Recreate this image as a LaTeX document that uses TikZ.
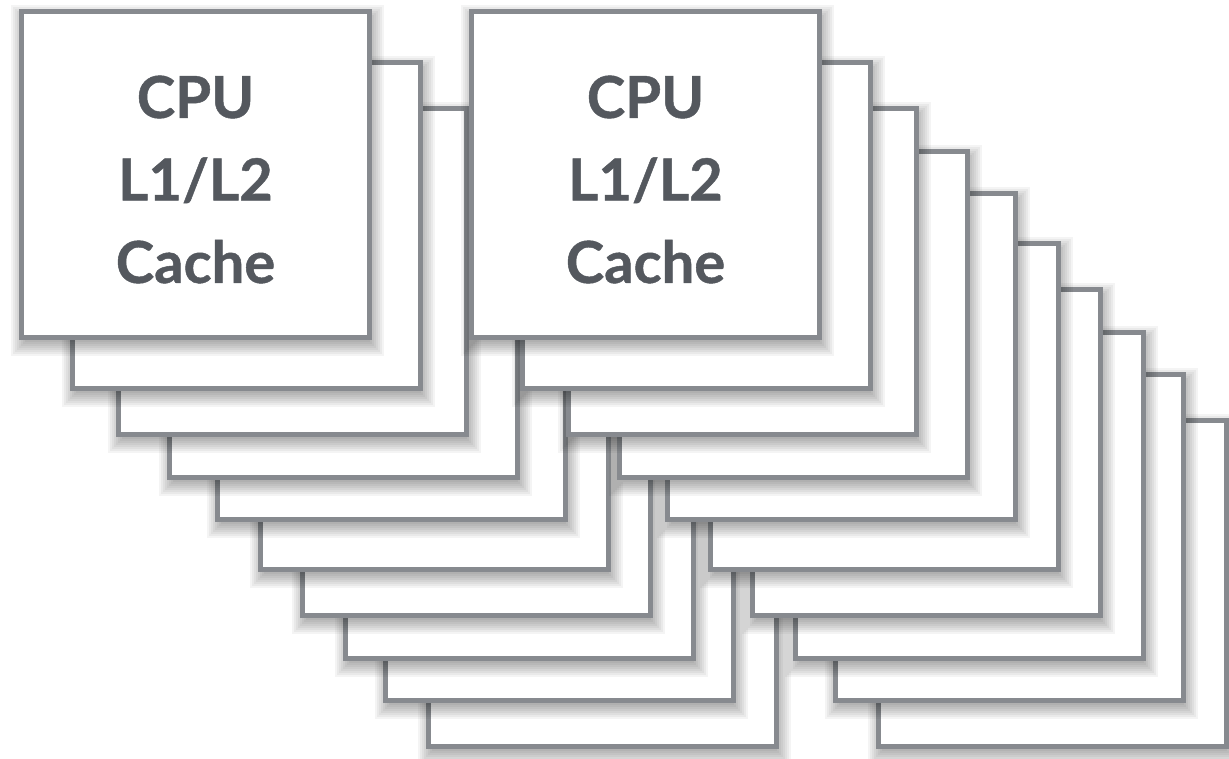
\documentclass[tikz,border=0pt]{standalone}
\usepackage{fontspec}
\setmainfont{Lato}[BoldFeatures={FakeBold=0.8}]
\definecolor{edgegray}{RGB}{135,138,143}
\definecolor{inkgray}{RGB}{84,88,94}
\tikzset{
  card/.style={draw=edgegray, line width=5pt, fill=white,
    minimum width=348pt, minimum height=326pt, inner sep=0pt, outer sep=0pt,
    anchor=north west},
  cardshade/.style={fill=black, opacity=0.045},
  cardlabel/.style={text=inkgray, align=center,
    font=\fontsize{58}{82.5}\selectfont\bfseries}
}
% soft drop shadow: stacked translucent rectangles around the card outline,
% pushed down and to the right
\newcommand\softshadow[2]{%
  \foreach \e in {-8,-6,...,10}{
    \fill[cardshade] (#1+2-\e, #2+6-\e) rectangle (#1+355+\e, #2+337+\e);
  }%
}
\begin{document}
\begin{tikzpicture}[x=1pt,y=-1pt]
\useasboundingbox (0,0) rectangle (1229,758);
% two stacks of cores, the right one shifted by 450
\foreach \sx/\st in {0/A,450/B}{
  \foreach \L/\T/\i in {426/418/10, 383/372/9, 343/330/8, 300/287/7,
                        258/241/6, 215/191/5, 167/149/4, 116/106/3, 70/60/2}{
    \softshadow{\L+\sx}{\T}
    \node[card] (\st\i) at (\L+\sx+2.5, \T+2.5) {};
  }
  \softshadow{19+\sx}{9}
  \node[card] (\st1) at (19+\sx+2.5, 9+2.5) {};
  \node[cardlabel] (\st label) at ([yshift=-5pt]\st1.center) {CPU\\L1/L2\\Cache};
}
\end{tikzpicture}
\end{document}
